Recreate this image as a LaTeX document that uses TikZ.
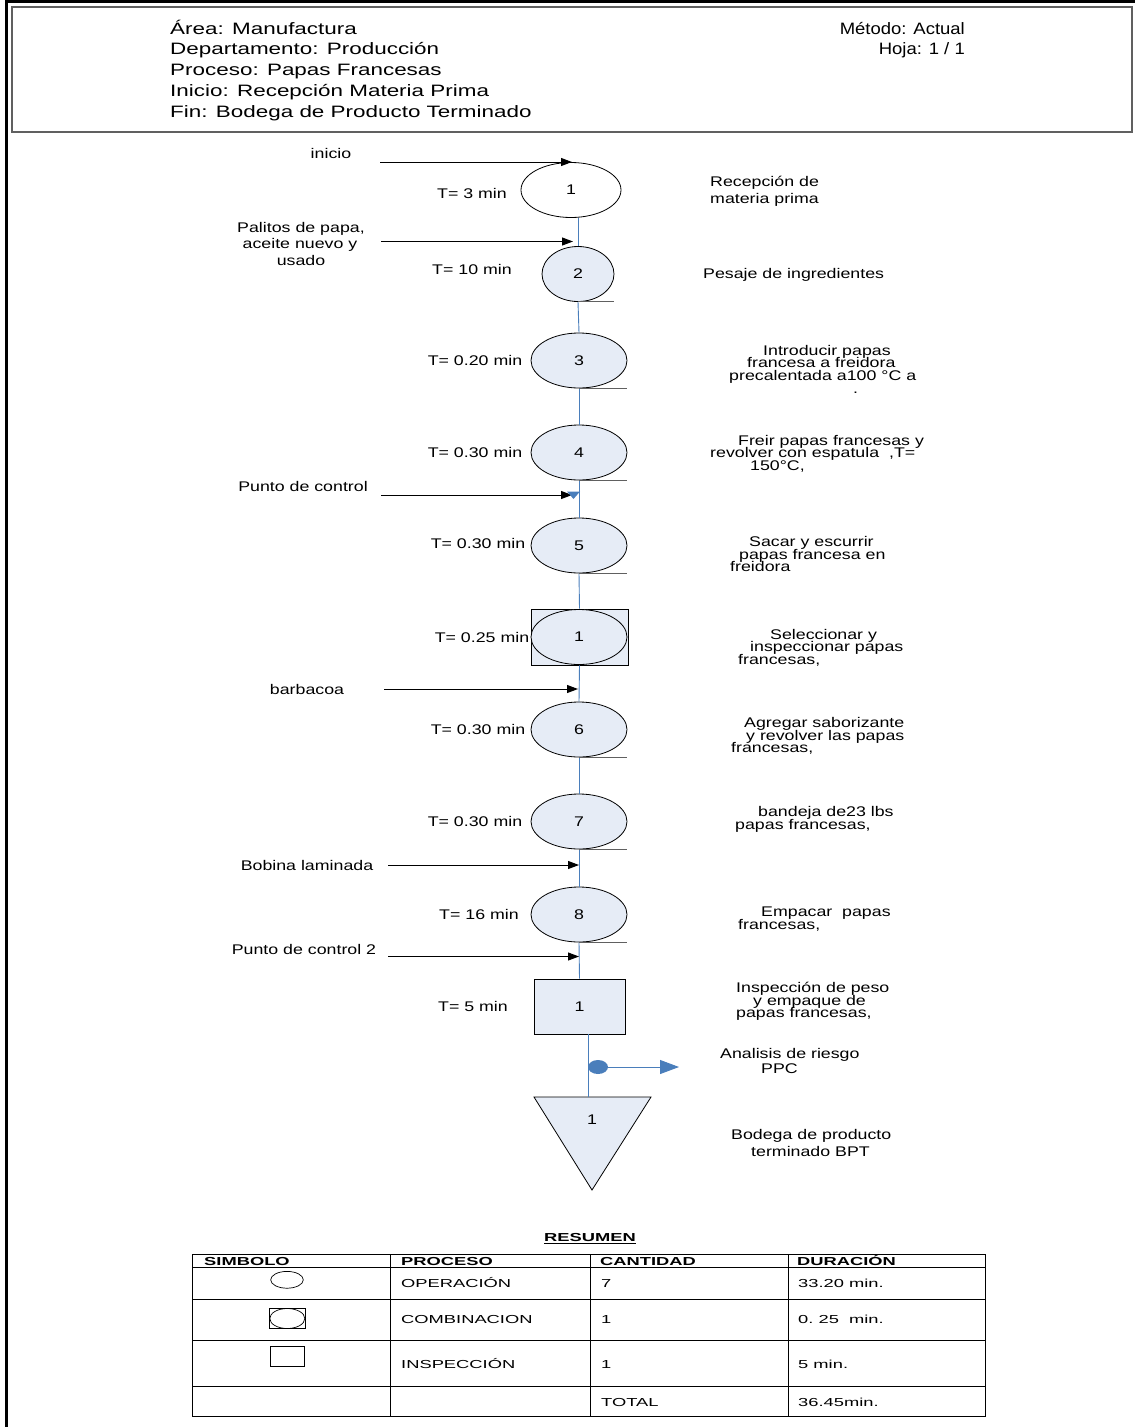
\documentclass[tikz,border=0pt]{standalone}
\usepackage{fontspec}
\setmainfont{Liberation Sans}[FakeStretch=1.27]
\newfontfamily\hdrfont{Liberation Sans}[FakeStretch=1.36]
\newfontfamily\hdrnarrow{Liberation Sans}[FakeStretch=1.12]
\newfontfamily\tblfont{Liberation Sans}[FakeStretch=1.58]
\usetikzlibrary{shapes.geometric,arrows.meta}

\definecolor{flowblue}{HTML}{4A7EBB}
\definecolor{opfill}{HTML}{E6ECF6}
\definecolor{rulegray}{HTML}{606060}

\begin{document}
\begin{tikzpicture}[x=1pt,y=-1pt,
  body/.style={font=\fontsize{14}{16}\selectfont, inner sep=0pt},
  hdr/.style={font=\hdrfont\fontsize{16.5}{20}\selectfont, inner sep=0pt},
  hdrr/.style={font=\hdrnarrow\fontsize{16.5}{20}\selectfont, inner sep=0pt, anchor=base east},
  tbl/.style={font=\tblfont\fontsize{11.6}{13}\selectfont, inner sep=0pt, anchor=base west},
  tblhead/.style={font=\tblfont\bfseries\fontsize{11.6}{13}\selectfont, inner sep=0pt, anchor=base west},
  rl/.style={body, anchor=base west},
  tl/.style={body, anchor=base},
  op/.style={ellipse, draw=black, line width=0.8pt, fill=opfill, minimum width=96pt,
             minimum height=55pt, inner sep=0pt, font=\fontsize{14}{16}\selectfont},
  insp/.style={rectangle, draw=black, line width=0.8pt, fill=opfill, inner sep=0pt,
             font=\fontsize{14}{16}\selectfont},
  flow/.style={draw=flowblue, line width=0.9pt},
  feed/.style={draw=black, line width=1pt, -{Triangle[length=11pt,width=8pt]}},
  uline/.style={draw=rulegray, line width=1pt},
  sym/.style={draw=black, line width=0.7pt},
]
\useasboundingbox (0,0) rectangle (1135,1427);

% page frame and header box
\draw[line width=2.2pt] (6.5,1427) -- (6.5,1.5) -- (1136,1.5);
\draw[draw=rulegray, line width=1.2pt] (12,7) rectangle (1132,132);

\node[hdr, anchor=base west] (hArea) at (170,34) {Área: Manufactura};
\node[hdr, anchor=base west] (hDep)  at (170,54.5) {Departamento: Producción};
\node[hdr, anchor=base west] (hProc) at (170,75) {Proceso: Papas Francesas};
\node[hdr, anchor=base west] (hIni)  at (170,96) {Inicio: Recepción Materia Prima};
\node[hdr, anchor=base west] (hFin)  at (170,117) {Fin: Bodega de Producto Terminado};
\node[hdrr] (hMet)  at (965,34) {Método: Actual};
\node[hdrr] (hHoja) at (965,54.5) {Hoja: 1 / 1};

% process symbols
\node[op, fill=white, minimum width=100pt] (e1) at (571,190) {1};
\node[op, minimum width=72pt] (e2) at (578,274) {2};
\node[op] (e3) at (579,360.5) {3};
\node[op] (e4) at (579,452.5) {4};
\node[op] (e5) at (579,545.5) {5};
\node[insp, minimum width=97pt, minimum height=56pt] (c1sq) at (579.5,637) {};
\node[op] (c1) at (579,637) {1};
\node[op] (e6) at (579,729.5) {6};
\node[op] (e7) at (579,821.5) {7};
\node[op] (e8) at (579,914.5) {8};
\node[insp, minimum width=91pt, minimum height=55pt] (sq) at (579.5,1006.5) {1};

% storage triangle
\coordinate (tritop) at (588,1097);
\draw[fill=opfill, draw=black, line width=0.8pt] (534,1097) -- (651,1097) -- (592,1190) -- cycle;
\node[body] (tri) at (592,1120) {1};

% flow line
\draw[flow] (e1.south -| e2.north) -- (e2.north);
\draw[flow] (e2.south) -- (e3.north);
\draw[flow] (e3.south) -- (e4.north);
\draw[flow] (e4.south) -- (e5.north);
\draw[flow] (e5.south) -- (c1sq.north);
\draw[flow] (c1sq.south) -- (e6.north);
\draw[flow] (e6.south) -- (e7.north);
\draw[flow] (e7.south) -- (e8.north);
\draw[flow] (e8.south) -- (sq.north);
\draw[flow] (sq.south -| tritop) -- (tritop);

% short rules under the operations
\foreach \n in {e2,e3,e4,e5,e6,e7,e8}
  \draw[uline] (\n.south) -- (\n.south -| \n.east);

% risk analysis branch
\node[ellipse, fill=flowblue, minimum width=20pt, minimum height=14pt, inner sep=0pt] (dot) at (598,1067) {};
\coordinate (riskend) at (679,1067);
\draw[flow, -{Triangle[length=19pt,width=14pt]}] (dot.east) -- (riskend);

% incoming material arrows
\coordinate (a1s) at (380,162);   \coordinate (a1e) at (572,162);
\coordinate (a2s) at (381,241.5); \coordinate (a2e) at (573,241.5);
\coordinate (a3s) at (381,495);   \coordinate (a3e) at (572,495);
\coordinate (a4s) at (384,689);   \coordinate (a4e) at (578,689);
\coordinate (a5s) at (388,865);   \coordinate (a5e) at (579,865);
\coordinate (a6s) at (388,956.5); \coordinate (a6e) at (579,956.5);
\draw[feed] (a1s) -- (a1e);
\draw[feed] (a2s) -- (a2e);
\draw[feed] (a3s) -- (a3e);
\draw[feed] (a4s) -- (a4e);
\draw[feed] (a5s) -- (a5e);
\draw[feed] (a6s) -- (a6e);
\fill[flowblue] (567,491.5) -- (580,491.5) -- (573.5,499) -- cycle;

% left labels
\node[tl] (lInicio) at (331,158) {inicio};
\node[tl] (lPal1) at (301,232) {Palitos de papa,};
\node[tl] (lPal2) at (300,248.5) {aceite nuevo y};
\node[tl] (lPal3) at (301,265) {usado};
\node[tl] (lPc1) at (303,491.5) {Punto de control};
\node[tl] (lBarb) at (307,694) {barbacoa};
\node[tl] (lBob) at (307,870) {Bobina laminada};
\node[tl] (lPc2) at (304,954) {Punto de control 2};

% times
\node[tl] (t1) at (472,198) {T= 3 min};
\node[tl] (t2) at (472,274) {T= 10 min};
\node[tl] (t3) at (475,365) {T= 0.20 min};
\node[tl] (t4) at (475,457.5) {T= 0.30 min};
\node[tl] (t5) at (478,548) {T= 0.30 min};
\node[tl] (tc) at (482,642) {T= 0.25 min};
\node[tl] (t6) at (478,734) {T= 0.30 min};
\node[tl] (t7) at (475,826) {T= 0.30 min};
\node[tl] (t8) at (479,919) {T= 16 min};
\node[tl] (ti) at (473,1011) {T= 5 min};

% step descriptions
\node[rl] (d1a) at (710,186.5) {Recepción de};
\node[rl] (d1b) at (710,203) {materia prima};
\node[rl] (d2a) at (703,278) {Pesaje de ingredientes};
\node[rl] (d3a) at (763,355.5) {Introducir papas};
\node[rl] (d3b) at (747,367.5) {francesa a freidora};
\node[rl] (d3c) at (729,380) {precalentada a100 °C a};
\node[rl] (d3d) at (853,393) {.};
\node[rl] (d4a) at (738,445.5) {Freir papas francesas y};
\node[rl] (d4b) at (710,457.5) {revolver con espatula\ \ ,T=};
\node[rl] (d4c) at (750,470) {150°C,};
\node[rl] (d5a) at (749,546.5) {Sacar y escurrir};
\node[rl] (d5b) at (739,559) {papas francesa en};
\node[rl] (d5c) at (730,571.5) {freidora};
\node[rl] (dca) at (770,639) {Seleccionar y};
\node[rl] (dcb) at (750,651.5) {inspeccionar papas};
\node[rl] (dcc) at (738,664) {francesas,};
\node[rl] (d6a) at (744,727.5) {Agregar saborizante};
\node[rl] (d6b) at (746,740) {y revolver las papas};
\node[rl] (d6c) at (731,752.5) {francesas,};
\node[rl] (d7a) at (758,816) {bandeja de23 lbs};
\node[rl] (d7b) at (735,829) {papas francesas,};
\node[rl] (d8a) at (761,916.5) {Empacar\ \ papas};
\node[rl] (d8b) at (738,929) {francesas,};
\node[rl] (dia) at (736,992) {Inspección de peso};
\node[rl] (dib) at (753,1005) {y empaque de};
\node[rl] (dic) at (736,1017.5) {papas francesas,};
\node[rl] (dra) at (720,1058) {Analisis de riesgo};
\node[rl] (drb) at (761,1073) {PPC};
\node[rl] (dba) at (731,1139) {Bodega de producto};
\node[rl] (dbb) at (751,1156.5) {terminado BPT};

% summary table
\node[font=\tblfont\bfseries\fontsize{11.6}{13}\selectfont, inner sep=0pt, anchor=base] (res) at (590,1241.5) {\underline{RESUMEN}};
\draw[line width=1pt] (192,1254) rectangle (985,1416);
\foreach \x in {390,590,788} \draw[line width=0.9pt] (\x,1254) -- (\x,1416);
\foreach \y in {1267,1299,1340,1386} \draw[line width=0.9pt] (192,\y) -- (985,\y);

\node[tblhead] (hS) at (204,1265.5) {\underline{SIMBOLO}};
\node[tblhead] (hP) at (401,1265.5) {\underline{PROCESO}};
\node[tblhead] (hC) at (600,1265.5) {\underline{CANTIDAD}};
\node[tblhead] (hD) at (797,1265.5) {\underline{DURACIÓN}};

\draw[sym] (287,1279.8) ellipse [x radius=16.3, y radius=8.4];
\draw[sym] (269.5,1308.4) rectangle (305,1328.6);
\draw[sym] (287.3,1318.5) ellipse [x radius=17.5, y radius=10];
\draw[sym] (270.5,1346.3) rectangle (304.5,1366.5);

\node[tbl] (p1) at (401,1287.3) {OPERACIÓN};
\node[tbl] (p2) at (401,1323.5) {COMBINACION};
\node[tbl] (p3) at (401,1368) {INSPECCIÓN};
\node[tbl] (c1n) at (601,1287.3) {7};
\node[tbl] (c2n) at (601,1323.5) {1};
\node[tbl] (c3n) at (601,1368) {1};
\node[tbl] (c4n) at (601,1406) {TOTAL};
\node[tbl] (u1) at (798,1287.3) {33.20 min.};
\node[tbl] (u2) at (798,1323.5) {0.\ 25\ \ min.};
\node[tbl] (u3) at (798,1368) {5 min.};
\node[tbl] (u4) at (798,1406) {36.45min.};
\end{tikzpicture}
\end{document}
